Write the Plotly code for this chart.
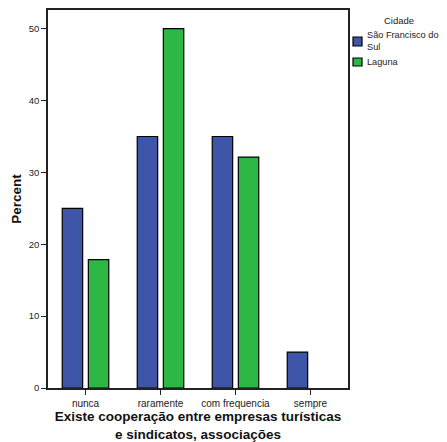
import plotly.graph_objects as go

categories = ["nunca", "raramente", "com frequencia", "sempre"]
sao_francisco = [25.0, 35.0, 35.0, 5.0]
laguna = [17.86, 50.0, 32.14, 0.0]
y_ticks = [0, 10, 20, 30, 40, 50]
series_names = ["São Francisco do<br>Sul", "Laguna"]
series_colors = ["#3F56A8", "#2DB744"]
legend_title = "Cidade"


def outline(vals):
    return [1.2 if v > 0 else 0 for v in vals]


fig = go.Figure()
for vals, name, color in zip([sao_francisco, laguna], series_names, series_colors):
    fig.add_trace(go.Bar(x=categories, y=vals, name=name, showlegend=False,
                         marker=dict(color=color, line=dict(color="black", width=outline(vals)))))

# manual legend (paper coordinates, to the right of the plot frame)
fig.add_annotation(text=legend_title, x=1.17, y=0.972, xref="paper", yref="paper",
                   xanchor="center", yanchor="middle", showarrow=False,
                   font=dict(size=9.5, color="#222"))
legend_rows = [(0.9286, 0.9048, 0.918), (0.873, 0.8519, 0.862)]
for (y1, y0, yt), name, color in zip(legend_rows, series_names, series_colors):
    fig.add_shape(type="rect", xref="paper", yref="paper", x0=1.0167, x1=1.0467,
                  y0=y0, y1=y1, fillcolor=color, line=dict(color="black", width=1.2))
    fig.add_annotation(text=name, x=1.058, y=yt, xref="paper", yref="paper",
                       xanchor="left", yanchor="middle", align="left", showarrow=False,
                       font=dict(size=9.2, color="#222"))

fig.update_layout(
    width=439, height=434,
    margin=dict(l=40, r=99, t=2, b=54, autoexpand=False),
    paper_bgcolor="white", plot_bgcolor="white",
    barmode="group", bargap=0.304, bargroupgap=0.218,
    font=dict(family="Liberation Sans, Arial, sans-serif", size=9, color="#222"),
    showlegend=False,
    xaxis=dict(
        title=dict(text="<b>Existe cooperação entre empresas turísticas<br>e sindicatos, associações</b>",
                   font=dict(size=13.5, color="#111"), standoff=8),
        showline=True, linecolor="#222", linewidth=1.5, mirror=True,
        ticks="outside", ticklen=5, tickcolor="#222", tickfont=dict(size=10),
        showgrid=False,
    ),
    yaxis=dict(
        title=dict(text="<b>Percent</b>", font=dict(size=13.5, color="#111"), standoff=4),
        range=[0, 52.6], tickvals=y_ticks,
        showline=True, linecolor="#222", linewidth=1.5, mirror=True,
        ticks="outside", ticklen=5, tickcolor="#222", tickfont=dict(size=9.5),
        showgrid=False, zeroline=False,
    ),
)

fig.write_html("out.html")
